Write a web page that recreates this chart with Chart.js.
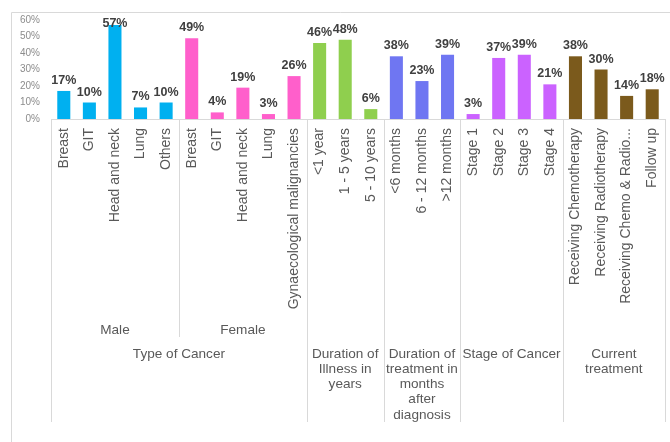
<!DOCTYPE html>
<html>
<head>
<meta charset="utf-8">
<script src="https://cdn.jsdelivr.net/npm/chart.js@4"></script>
<style>
  html, body { margin: 0; padding: 0; background: #fff; }
</style>
</head>
<body>
<canvas id="chart" width="670" height="442"></canvas>
<script>
const maleLabels = ['Breast', 'GIT', 'Head and neck', 'Lung', 'Others'];
const maleValues = [17, 10, 57, 7, 10];
const femaleLabels = ['Breast', 'GIT', 'Head and neck', 'Lung', 'Gynaecological malignancies'];
const femaleValues = [49, 4, 19, 3, 26];
const illnessLabels = ['<1 year', '1 - 5 years', '5 - 10 years'];
const illnessValues = [46, 48, 6];
const treatmentLabels = ['<6 months', '6 - 12 months', '>12 months'];
const treatmentValues = [38, 23, 39];
const stageLabels = ['Stage 1', 'Stage 2', 'Stage 3', 'Stage 4'];
const stageValues = [3, 37, 39, 21];
const currentLabels = ['Receiving Chemotherapy', 'Receiving Radiotherapy', 'Receiving Chemo & Radio...', 'Follow up'];
const currentValues = [38, 30, 14, 18];

const groups = [
  { labels: maleLabels, values: maleValues, color: '#00B0F0' },
  { labels: femaleLabels, values: femaleValues, color: '#FF5FCB' },
  { labels: illnessLabels, values: illnessValues, color: '#8FCF4E' },
  { labels: treatmentLabels, values: treatmentValues, color: '#6F76F2' },
  { labels: stageLabels, values: stageValues, color: '#CB62FF' },
  { labels: currentLabels, values: currentValues, color: '#7B5A1C' },
];

// sub headers (Male / Female) and main headers, as [text lines, first index, end index]
const subHeaders = [
  [['Male'], 0, 5],
  [['Female'], 5, 10],
];
const mainHeaders = [
  [['Type of Cancer'], 0, 10],
  [['Duration of', 'Illness in', 'years'], 10, 13],
  [['Duration of', 'treatment in', 'months', 'after', 'diagnosis'], 13, 16],
  [['Stage of Cancer'], 16, 20],
  [['Current', 'treatment'], 20, 24],
];

const labels = groups.flatMap((g) => g.labels);
const values = groups.flatMap((g) => g.values);
const colors = groups.flatMap((g) => g.labels.map(() => g.color));

const FONT = '"Liberation Sans", Arial, sans-serif';
const LINE = '#d9d9d9';

const boundary = (scale, i) => {
  if (i <= 0) return scale.left;
  if (i >= labels.length) return scale.right;
  return (scale.getPixelForValue(i - 1) + scale.getPixelForValue(i)) / 2;
};

const groupPlugin = {
  id: 'groups',
  beforeDraw(chart) {
    const { ctx } = chart;
    ctx.save();
    ctx.strokeStyle = LINE;
    ctx.lineWidth = 1;
    ctx.beginPath();
    ctx.moveTo(11.5, 442);
    ctx.lineTo(11.5, 12.5);
    ctx.lineTo(670, 12.5);
    ctx.stroke();
    ctx.restore();
  },
  afterDraw(chart) {
    const { ctx } = chart;
    const x = chart.scales.x;
    const top = x.top;

    ctx.save();
    ctx.strokeStyle = LINE;
    ctx.lineWidth = 1;
    ctx.beginPath();
    for (const [, start, end] of mainHeaders) {
      for (const i of [start, end]) {
        const px = Math.round(boundary(x, i)) + 0.5;
        ctx.moveTo(px, top);
        ctx.lineTo(px, 422);
      }
    }
    const mid = Math.round(boundary(x, 5)) + 0.5;
    ctx.moveTo(mid, top);
    ctx.lineTo(mid, 337);
    ctx.stroke();

    ctx.fillStyle = '#595959';
    ctx.font = `13.6px ${FONT}`;
    ctx.textAlign = 'center';
    ctx.textBaseline = 'middle';
    for (const [lines, start, end] of subHeaders) {
      const cx = (boundary(x, start) + boundary(x, end)) / 2;
      lines.forEach((t, k) => ctx.fillText(t, cx, 330 + k * 15.2));
    }
    for (const [lines, start, end] of mainHeaders) {
      const cx = (boundary(x, start) + boundary(x, end)) / 2;
      lines.forEach((t, k) => ctx.fillText(t, cx, 354 + k * 15.2));
    }
    ctx.restore();
  },
  afterDatasetsDraw(chart) {
    const { ctx } = chart;
    const meta = chart.getDatasetMeta(0);
    ctx.save();
    ctx.font = `bold 12.5px ${FONT}`;
    ctx.fillStyle = '#404040';
    ctx.textAlign = 'center';
    ctx.textBaseline = 'alphabetic';
    meta.data.forEach((bar, i) => {
      ctx.fillText(`${values[i]}%`, bar.x, Math.max(bar.y - 7, 27));
    });
    ctx.restore();
  },
};

new Chart(document.getElementById('chart'), {
  type: 'bar',
  data: {
    labels,
    datasets: [{
      data: values,
      backgroundColor: colors,
      borderWidth: 0,
      barPercentage: 0.51,
      categoryPercentage: 1,
    }],
  },
  options: {
    responsive: false,
    animation: false,
    layout: { padding: { top: 20, right: 5, left: 0, bottom: 0 } },
    plugins: {
      legend: { display: false },
      tooltip: { enabled: false },
    },
    scales: {
      x: {
        grid: { display: false, drawTicks: false },
        border: { display: true, color: LINE },
        ticks: {
          autoSkip: false,
          minRotation: 90,
          maxRotation: 90,
          padding: 9,
          color: '#595959',
          font: { family: FONT, size: 14 },
        },
        afterFit: (scale) => {
          scale.height = 323;
          scale.paddingLeft = 0;
          scale.paddingRight = 0;
        },
      },
      y: {
        min: 0,
        max: 60,
        grid: { display: false, drawTicks: false },
        border: { display: false },
        ticks: {
          stepSize: 10,
          padding: 11,
          color: '#8c8c8c',
          font: { family: FONT, size: 10 },
          callback: (v) => `${v}%`,
        },
        afterFit: (scale) => { scale.width = 51; },
      },
    },
  },
  plugins: [groupPlugin],
});
</script>
</body>
</html>
